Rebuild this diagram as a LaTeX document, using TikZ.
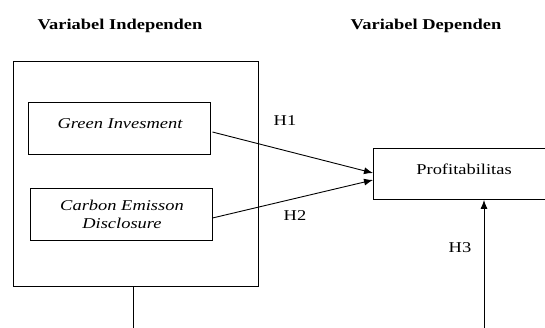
\documentclass[tikz,border=0pt]{standalone}
\usepackage{fontspec}
\setmainfont{Liberation Serif}[FakeStretch=1.23]
\usetikzlibrary{arrows.meta}
\tikzset{
  every node/.style={font=\fontsize{15}{18}\selectfont, inner sep=0pt},
  boxline/.style={draw=black, line width=0.9pt},
  lbl/.style={anchor=base},
  arr/.style={line width=0.9pt, -{Latex[length=9pt,width=7pt]}}
}
\begin{document}
\begin{tikzpicture}[x=1pt,y=-1pt]
\useasboundingbox (0,0) rectangle (545,327);
\clip (0,0) rectangle (545,327);
% titles
\node[lbl, font=\fontsize{15}{18}\selectfont\bfseries] (t1) at (120,29) {Variabel Independen};
\node[lbl, font=\fontsize{15}{18}\selectfont\bfseries] (t2) at (426,29) {Variabel Dependen};
% outer box
\draw[boxline] (13,61) rectangle (258,286);
\coordinate (outb) at (133,286);
\coordinate (outend) at (133,328);
% inner boxes
\node[boxline, minimum width=182pt, minimum height=52pt] (gi) at (119,128) {};
\node[lbl, font=\fontsize{15}{18}\selectfont\itshape] (gitext) at (120,128) {Green Invesment};
\node[boxline, minimum width=182pt, minimum height=52pt] (ce) at (121,214) {};
\node[lbl, font=\fontsize{15}{18}\selectfont\itshape] (cetext1) at (122,210) {Carbon Emisson};
\node[lbl, font=\fontsize{15}{18}\selectfont\itshape] (cetext2) at (122,228) {Disclosure};
% dependent box
\node[boxline, minimum width=180pt, minimum height=51pt, anchor=north west] (pr) at (373,148) {};
\node[lbl] (prtext) at (464,174) {Profitabilitas};
% arrows
\coordinate (tip1) at (372,173);
\coordinate (tip2) at (372,180);
\draw[arr] (gi.east |- 0,132) ++(2,0) coordinate (s1) -- (pr.west |- tip1);
\draw[arr] (ce.east |- 0,218) -- (pr.west |- tip2);
\coordinate (h3start) at (484,328);
\draw[arr] (h3start) -- (pr.south -| h3start);
\draw[line width=0.9pt] (outb) -- (outend);
% labels
\node[lbl] (h1) at (285,125) {H1};
\node[lbl] (h2) at (295,220) {H2};
\node[lbl] (h3) at (460,252) {H3};
\end{tikzpicture}
\end{document}
